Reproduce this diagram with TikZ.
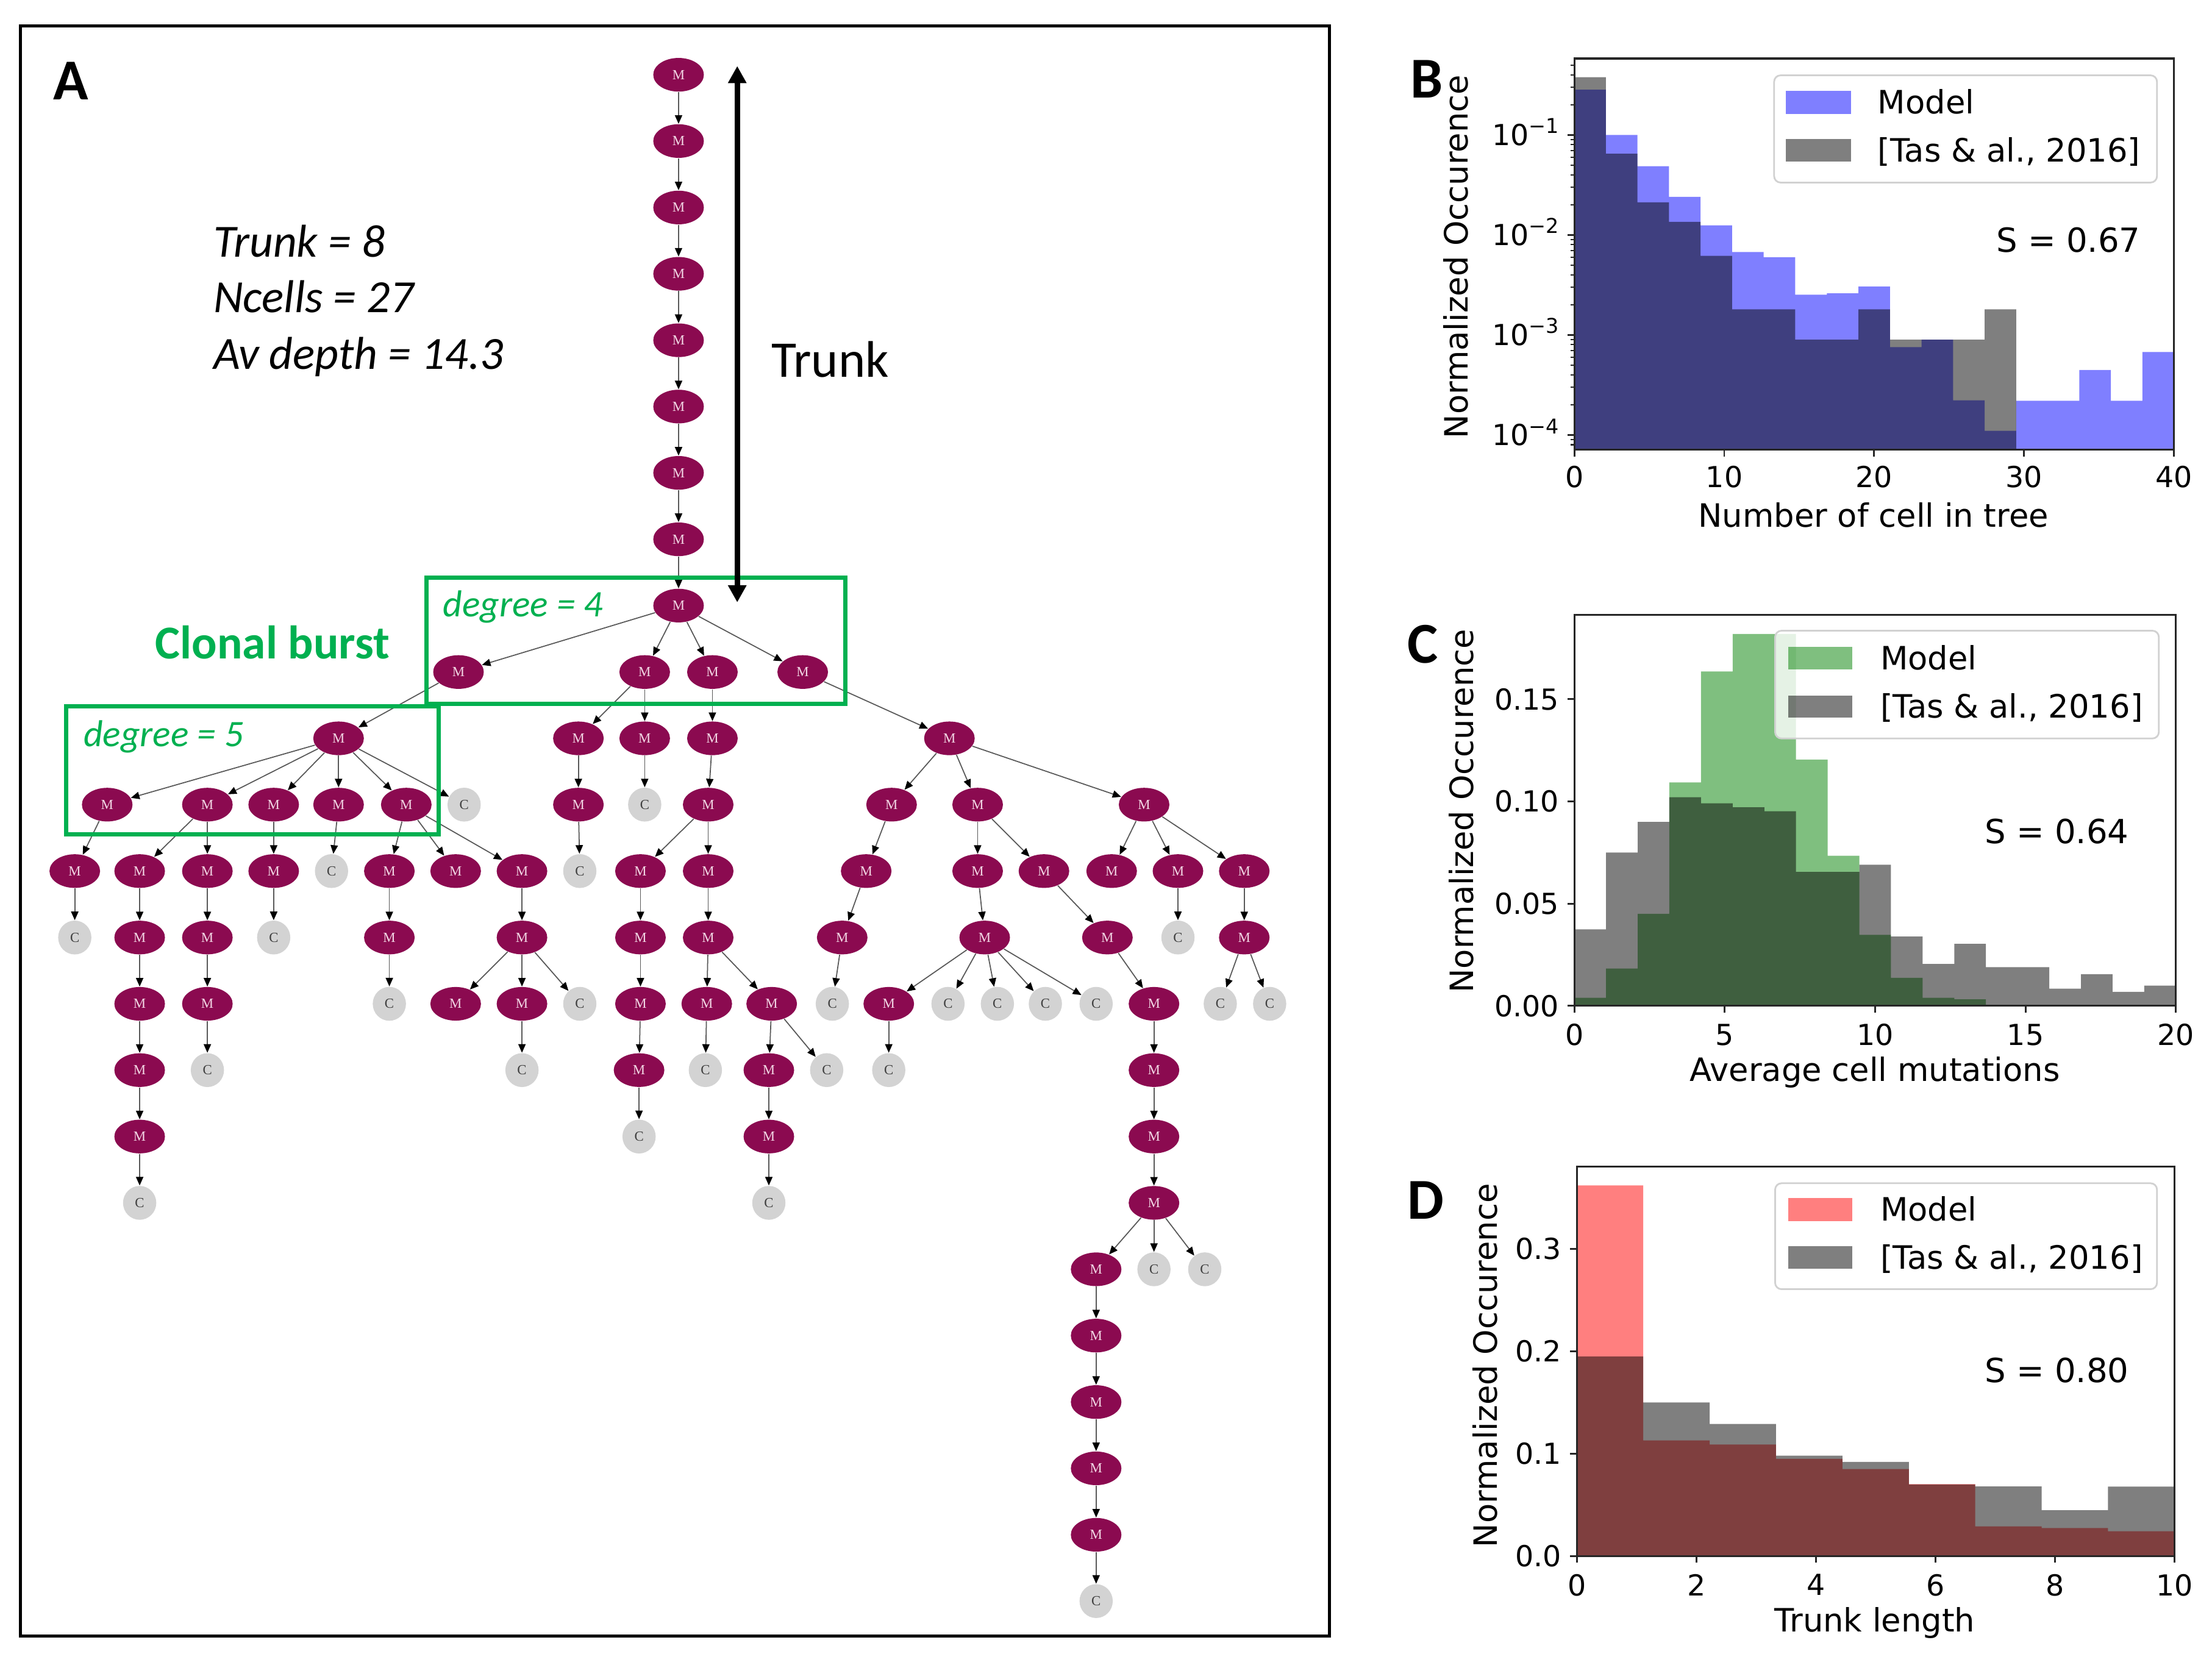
\documentclass[tikz,border=0pt]{standalone}
\usepackage{fontspec}
\setmainfont{Carlito}
\newfontfamily\mplfont{DejaVu Sans}
\newfontfamily\gvfont{Liberation Serif}
\usetikzlibrary{shapes.geometric,arrows.meta}
\definecolor{mcol}{HTML}{8B0A50}
\definecolor{ccol}{HTML}{D3D3D3}
\definecolor{grn}{HTML}{00B050}
\definecolor{mtext}{HTML}{F2D6E4}
\tikzset{
 mn/.style={ellipse, fill=mcol, inner sep=0pt, minimum width=23.6pt, minimum height=15.7pt, text=mtext, font=\gvfont\fontsize{6.5}{6.5}\selectfont},
 cn/.style={ellipse, fill=ccol, inner sep=0pt, minimum width=15.5pt, minimum height=15.8pt, text=black!75, font=\gvfont\fontsize{6.5}{6.5}\selectfont},
 tedge/.style={draw=black!65, line width=0.5pt, -{Triangle[length=4pt,width=3.4pt,color=black]}},
 txt/.style={inner sep=0pt},
 gbox/.style={draw=grn, line width=2pt},
 ax/.style={draw=black!85, line width=0.9pt},
 tk/.style={draw=black!85, line width=0.8pt},
 tl/.style={inner sep=0pt, font=\mplfont\fontsize{13.5}{14}\selectfont},
 lb/.style={inner sep=0pt, font=\mplfont\fontsize{15}{16}\selectfont},
 slab/.style={inner sep=0pt, font=\mplfont\fontsize{15.5}{16}\selectfont},
 legbox/.style={draw=black!18, line width=0.8pt, fill=white, fill opacity=0.8, rounded corners=3pt},
 tas/.style={fill=black, fill opacity=0.5},
 panlab/.style={inner sep=0pt, font=\fontsize{27}{30}\selectfont\bfseries},
}
\begin{document}
\begin{tikzpicture}[x=0.0231378cm, y=-0.0231378cm]
\fill[white] (0,0) rectangle (1568,1180.3);
\useasboundingbox (0,0) rectangle (1568,1180.3);

% ===== Panel A =====
\draw[line width=1.4pt] (14.4,18.4) rectangle (942.2,1159.6);
\node[panlab, anchor=base west] (labA) at (37.5,70.6) {A};

\node[txt, anchor=base west, font=\fontsize{21.5}{24}\selectfont\itshape] (st1) at (151,182) {Trunk = 8};
\node[txt, anchor=base west, font=\fontsize{21.5}{24}\selectfont\itshape] (st2) at (151,221.3) {Ncells = 27};
\node[txt, anchor=base west, font=\fontsize{21.5}{24}\selectfont\itshape] (st3) at (151,261.9) {Av depth = 14.3};
\node[txt, anchor=base west, font=\fontsize{24}{26}\selectfont] (trunklab) at (546.6,267.4) {Trunk};
\node[txt, anchor=base west, text=grn, font=\fontsize{22}{24}\selectfont\bfseries] (burst) at (109.8,467) {Clonal burst};

% trunk
\node[mn] (t1) at (481,53) {M};
\node[mn] (t2) at (481,100) {M};
\node[mn] (t3) at (481,147.1) {M};
\node[mn] (t4) at (481,194.1) {M};
\node[mn] (t5) at (481,241.2) {M};
\node[mn] (t6) at (481,288.2) {M};
\node[mn] (t7) at (481,335.2) {M};
\node[mn] (t8) at (481,382.3) {M};
\node[mn] (r) at (481,429.3) {M};
% row 10
\node[mn] (a) at (325,476.4) {M};
\node[mn] (b) at (457,476.4) {M};
\node[mn] (c) at (505,476.4) {M};
\node[mn] (d) at (569,476.4) {M};
% row 11
\node[mn] (a1) at (240,523.4) {M};
\node[mn] (b1) at (410,523.4) {M};
\node[mn] (b2) at (457,523.4) {M};
\node[mn] (c1) at (505,523.4) {M};
\node[mn] (d1) at (673,523.4) {M};
% row 12
\node[mn] (e1) at (76,570.4) {M};
\node[mn] (e2) at (147,570.4) {M};
\node[mn] (e3) at (194,570.4) {M};
\node[mn] (e4) at (240,570.4) {M};
\node[mn] (e5) at (288,570.4) {M};
\node[cn] (e6) at (329,570.4) {C};
\node[mn] (b11) at (410,570.4) {M};
\node[cn] (b21) at (457,570.4) {C};
\node[mn] (c11) at (502,570.4) {M};
\node[mn] (f1) at (632,570.4) {M};
\node[mn] (f2) at (693,570.4) {M};
\node[mn] (f3) at (811,570.4) {M};
% row 13
\node[mn] (e11) at (53,617.5) {M};
\node[mn] (e21) at (99,617.5) {M};
\node[mn] (e22) at (147,617.5) {M};
\node[mn] (e31) at (194,617.5) {M};
\node[cn] (e41) at (235,617.5) {C};
\node[mn] (e51) at (276,617.5) {M};
\node[mn] (e52) at (323,617.5) {M};
\node[mn] (e53) at (370,617.5) {M};
\node[cn] (b111) at (411,617.5) {C};
\node[mn] (c111) at (454,617.5) {M};
\node[mn] (c112) at (502,617.5) {M};
\node[mn] (f11) at (614,617.5) {M};
\node[mn] (f21) at (693,617.5) {M};
\node[mn] (f22) at (740,617.5) {M};
\node[mn] (f31) at (788,617.5) {M};
\node[mn] (f32) at (835,617.5) {M};
\node[mn] (f33) at (882,617.5) {M};
% row 14
\node[cn] (e111) at (53,664.6) {C};
\node[mn] (e211) at (99,664.6) {M};
\node[mn] (e221) at (147,664.6) {M};
\node[cn] (e311) at (194,664.6) {C};
\node[mn] (e511) at (276,664.6) {M};
\node[mn] (e531) at (370,664.6) {M};
\node[mn] (c1111) at (454,664.6) {M};
\node[mn] (c1121) at (502,664.6) {M};
\node[mn] (f111) at (597,664.6) {M};
\node[mn] (f211) at (698,664.6) {M};
\node[mn] (f221) at (785,664.6) {M};
\node[cn] (f321) at (835,664.6) {C};
\node[mn] (f331) at (882,664.6) {M};
% row 15
\node[mn] (g1) at (99,711.6) {M};
\node[mn] (g2) at (147,711.6) {M};
\node[cn] (g3) at (276,711.6) {C};
\node[mn] (g4) at (323,711.6) {M};
\node[mn] (g5) at (370,711.6) {M};
\node[cn] (g6) at (411,711.6) {C};
\node[mn] (g7) at (454,711.6) {M};
\node[mn] (g8) at (501,711.6) {M};
\node[mn] (g9) at (547,711.6) {M};
\node[cn] (g10) at (590,711.6) {C};
\node[mn] (h1) at (630,711.6) {M};
\node[cn] (h2) at (672,711.6) {C};
\node[cn] (h3) at (707,711.6) {C};
\node[cn] (h4) at (741,711.6) {C};
\node[cn] (h5) at (777,711.6) {C};
\node[mn] (h6) at (818,711.6) {M};
\node[cn] (h7) at (865,711.6) {C};
\node[cn] (h8) at (900,711.6) {C};
% row 16
\node[mn] (i1) at (99,758.6) {M};
\node[cn] (i2) at (147,758.6) {C};
\node[cn] (i3) at (370,758.6) {C};
\node[mn] (i4) at (453,758.6) {M};
\node[cn] (i5) at (500,758.6) {C};
\node[mn] (i6) at (545,758.6) {M};
\node[cn] (i7) at (586,758.6) {C};
\node[cn] (i8) at (630,758.6) {C};
\node[mn] (i9) at (818,758.6) {M};
% row 17
\node[mn] (j1) at (99,805.7) {M};
\node[cn] (j2) at (453,805.7) {C};
\node[mn] (j3) at (545,805.7) {M};
\node[mn] (j4) at (818,805.7) {M};
% row 18
\node[cn] (k1) at (99,852.7) {C};
\node[cn] (k2) at (545,852.7) {C};
\node[mn] (k3) at (818,852.7) {M};
% row 19
\node[mn] (l1) at (777,899.8) {M};
\node[cn] (l2) at (818,899.8) {C};
\node[cn] (l3) at (854,899.8) {C};
% rows 20-24
\node[mn] (m1) at (777,946.8) {M};
\node[mn] (m2) at (777,993.9) {M};
\node[mn] (m3) at (777,1040.9) {M};
\node[mn] (m4) at (777,1088) {M};
\node[cn] (m5) at (777,1135) {C};

\foreach \p/\q in {t1/t2,t2/t3,t3/t4,t4/t5,t5/t6,t6/t7,t7/t8,t8/r,
 r/a,r/b,r/c,r/d,
 a/a1,b/b1,b/b2,c/c1,d/d1,
 a1/e1,a1/e2,a1/e3,a1/e4,a1/e5,a1/e6,b1/b11,b2/b21,c1/c11,d1/f1,d1/f2,d1/f3,
 e1/e11,e2/e21,e2/e22,e3/e31,e4/e41,e5/e51,e5/e52,e5/e53,b11/b111,c11/c111,c11/c112,f1/f11,f2/f21,f2/f22,f3/f31,f3/f32,f3/f33,
 e11/e111,e21/e211,e22/e221,e31/e311,e51/e511,e53/e531,c111/c1111,c112/c1121,f11/f111,f21/f211,f22/f221,f32/f321,f33/f331,
 e211/g1,e221/g2,e511/g3,e531/g4,e531/g5,e531/g6,c1111/g7,c1121/g8,c1121/g9,f111/g10,f211/h1,f211/h2,f211/h3,f211/h4,f211/h5,f221/h6,f331/h7,f331/h8,
 g1/i1,g2/i2,g5/i3,g7/i4,g8/i5,g9/i6,g9/i7,h1/i8,h6/i9,
 i1/j1,i4/j2,i6/j3,i9/j4,
 j1/k1,j3/k2,j4/k3,
 k3/l1,k3/l2,k3/l3,
 l1/m1,m1/m2,m2/m3,m3/m4,m4/m5}
 {\draw[tedge] (\p) -- (\q);}

% green boxes
\draw[gbox] (302.3,409.6) rectangle (599.3,498.8);
\draw[gbox] (47,500.6) rectangle (310.8,591.5);
\node[txt, anchor=base west, text=grn, font=\fontsize{17.5}{19}\selectfont\itshape] (deg4) at (313.8,437) {degree = 4};
\node[txt, anchor=base west, text=grn, font=\fontsize{17.5}{19}\selectfont\itshape] (deg5) at (59,529.1) {degree = 5};

% trunk arrow
\coordinate (ttop) at (522.6,46.8);
\coordinate (tbot) at (522.6,427);
\draw[line width=2.6pt, {Triangle[length=8pt,width=8.2pt]}-{Triangle[length=8pt,width=8.2pt]}] (ttop) -- (tbot);

% ===== Panel B =====
\node[panlab, anchor=base west] (labB) at (999.5,69.4) {B};
\begin{scope}[shift={(1116,24.8)}, xscale=10.625, yscale=-70.9]
\fill[blue, fill opacity=0.5] (0,-4.145) |- (2.1053,-0.547) |- (4.2105,-1.0) |- (6.3158,-1.312) |- (8.4211,-1.619) |- (10.5263,-1.904) |- (12.6316,-2.170) |- (14.7368,-2.222) |- (16.8421,-2.597) |- (18.9474,-2.583) |- (21.0526,-2.515) |- (23.1579,-3.121) |- (25.2632,-3.047) |- (27.3684,-3.653) |- (29.4737,-3.957) |- (31.5789,-3.658) |- (33.6842,-3.658) |- (35.7895,-3.349) |- (37.8947,-3.658) |- (40,-3.169) -- (40,-4.145) -- cycle;
\fill[tas] (0,-4.145) |- (2.1053,-0.422) |- (4.2105,-1.187) |- (6.3158,-1.673) |- (8.4211,-1.869) |- (10.5263,-2.208) |- (12.6316,-2.743) |- (14.7368,-2.743) |- (16.8421,-3.047) |- (18.9474,-3.047) |- (21.0526,-2.743) |- (23.1579,-3.047) |- (25.2632,-3.047) |- (27.3684,-3.047) |- (29.4737,-2.743) -- (29.4737,-4.145) -- cycle;
\end{scope}
\draw[ax] (1116,41.5) rectangle (1541,318.8);
\foreach \v/\X [count=\i] in {0/1116,10/1222.25,20/1328.5,30/1434.75,40/1541}
 {\draw[tk] (\X,318.8) -- (\X,323.5); \node[tl, anchor=north] (bx\i) at (\X,330.2) {\v};}
\foreach \e/\Y in {1/95.7,2/166.6,3/237.5,4/308.4}
 {\draw[tk] (1116,\Y) -- (1111.3,\Y);
  \node[tl, anchor=base east] (by\e) at (1105.5,\Y+7.5) {10\raisebox{0.42em}{\fontsize{9.5}{9.5}\selectfont −\e}};}
\foreach \k in {1,...,5}{\foreach \m in {2,...,9}{
  \pgfmathsetmacro\yy{24.8+70.9*(\k-log10(\m))}
  \ifdim\yy pt>42pt \ifdim\yy pt<318pt \draw[tk, line width=0.6pt] (1116,\yy) -- (1113.2,\yy); \fi\fi
}}
\node[lb, rotate=90] (byl) at (1032,182) {Normalized Occurence};
\node[lb, anchor=base] (bxl) at (1328,373.7) {Number of cell in tree};
\draw[legbox] (1257.6,53.4) rectangle (1529,129.4);
\fill[blue, fill opacity=0.5] (1266,64.4) rectangle (1312,80.8);
\fill[tas] (1266,98.7) rectangle (1312,114.7);
\node[lb, anchor=base west] (bl1) at (1330.8,80.8) {Model};
\node[lb, anchor=base west] (bl2) at (1330.8,114.7) {[Tas \& al., 2016]};
\node[slab] (bs) at (1466.2,170) {S = 0.67};

% ===== Panel C =====
\node[panlab, anchor=base west] (labC) at (997.5,470) {C};
\begin{scope}[shift={(1116,713)}, xscale=21.32, yscale=-1449]
\fill[green!50!black, fill opacity=0.5] (0,0) |- (1.0526,0.0039) |- (2.1053,0.0182) |- (3.1579,0.045) |- (4.2105,0.1093) |- (5.2632,0.1636) |- (6.3158,0.1819) |- (7.3684,0.1819) |- (8.4211,0.1205) |- (9.4737,0.0734) |- (10.5263,0.0347) |- (11.5789,0.0137) |- (12.6316,0.0039) |- (13.6842,0.0032) -- (13.6842,0) -- cycle;
\fill[tas] (0,0) |- (1.0526,0.0374) |- (2.1053,0.075) |- (3.1579,0.090) |- (4.2105,0.1021) |- (5.2632,0.0991) |- (6.3158,0.0971) |- (7.3684,0.0952) |- (8.4211,0.0655) |- (9.4737,0.0655) |- (10.5263,0.0690) |- (11.5789,0.0339) |- (12.6316,0.0205) |- (13.6842,0.0303) |- (14.7368,0.0189) |- (15.7895,0.0189) |- (16.8421,0.0084) |- (17.8947,0.0155) |- (18.9474,0.0068) |- (20,0.0099) -- (20,0) -- cycle;
\end{scope}
\draw[ax] (1116,435.7) rectangle (1542.4,713);
\foreach \v/\X [count=\i] in {0/1116,5/1222.6,10/1329.2,15/1435.8,20/1542.4}
 {\draw[tk] (\X,713) -- (\X,717.7); \node[tl, anchor=north] (cx\i) at (\X,725.6) {\v};}
\foreach \v/\Y [count=\i] in {0.00/713,0.05/640.55,0.10/568.1,0.15/495.65}
 {\draw[tk] (1116,\Y) -- (1111.3,\Y); \node[tl, anchor=base east] (cy\i) at (1105.5,\Y+7.5) {\v};}
\node[lb, rotate=90] (cyl) at (1036,575) {Normalized Occurence};
\node[lb, anchor=base] (cxl) at (1329,766.7) {Average cell mutations};
\draw[legbox] (1258.3,447.1) rectangle (1530.3,523.5);
\fill[green!50!black, fill opacity=0.5] (1267.7,458.6) rectangle (1312.8,474.6);
\fill[tas] (1267.7,493.3) rectangle (1312.8,508.9);
\node[lb, anchor=base west] (cl1) at (1332.6,474.6) {Model};
\node[lb, anchor=base west] (cl2) at (1332.6,508.9) {[Tas \& al., 2016]};
\node[slab] (cs) at (1458,589.4) {S = 0.64};

% ===== Panel D =====
\node[panlab, anchor=base west] (labD) at (997.5,864) {D};
\begin{scope}[shift={(1117.8,1103.1)}, xscale=42.35, yscale=-726]
\fill[red, fill opacity=0.5] (0,0) |- (1.1111,0.362) |- (2.2222,0.113) |- (3.3333,0.109) |- (4.4444,0.095) |- (5.5556,0.085) |- (6.6667,0.0703) |- (7.7778,0.029) |- (8.8889,0.0274) |- (10,0.0243) -- (10,0) -- cycle;
\fill[tas] (0,0) |- (1.1111,0.195) |- (2.2222,0.150) |- (3.3333,0.129) |- (4.4444,0.098) |- (5.5556,0.092) |- (6.6667,0.070) |- (7.7778,0.068) |- (8.8889,0.0448) |- (10,0.0678) -- (10,0) -- cycle;
\end{scope}
\draw[ax] (1117.8,827) rectangle (1541.3,1103.1);
\foreach \v/\X [count=\i] in {0/1117.8,2/1202.5,4/1287.2,6/1371.9,8/1456.6,10/1541.3}
 {\draw[tk] (\X,1103.1) -- (\X,1107.8); \node[tl, anchor=north] (dx\i) at (\X,1115.7) {\v};}
\foreach \v/\Y [count=\i] in {0.0/1103.1,0.1/1030.5,0.2/957.9,0.3/885.3}
 {\draw[tk] (1117.8,\Y) -- (1113.1,\Y); \node[tl, anchor=base east] (dy\i) at (1107,\Y+7.5) {\v};}
\node[lb, rotate=90] (dyl) at (1052.6,968) {Normalized Occurence};
\node[lb, anchor=base] (dxl) at (1329,1156.8) {Trunk length};
\draw[legbox] (1258.3,838.8) rectangle (1529,913.9);
\fill[red, fill opacity=0.5] (1267.7,849.1) rectangle (1312.8,865.6);
\fill[tas] (1267.7,883.4) rectangle (1312.8,899.5);
\node[lb, anchor=base west] (dl1) at (1332.6,865.6) {Model};
\node[lb, anchor=base west] (dl2) at (1332.6,899.5) {[Tas \& al., 2016]};
\node[slab] (ds) at (1458,971.5) {S = 0.80};
\end{tikzpicture}
\end{document}
